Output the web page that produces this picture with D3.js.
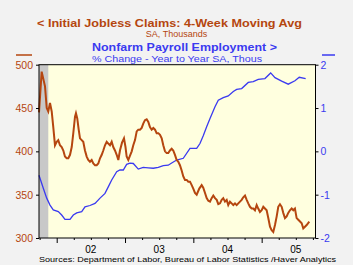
<!DOCTYPE html>
<html>
<head>
<meta charset="utf-8">
<script src="https://cdn.jsdelivr.net/npm/d3@7"></script>
<style>
  html, body { margin: 0; padding: 0; background: #f2f2f2; }
  svg { display: block; font-family: Arial, "Liberation Sans", sans-serif; }
</style>
</head>
<body>
<script>
// weekly claims, 4-wk avg (thousands) - dates as decimal years
var claimsT = [2001.741,2001.780,2001.829,2001.854,2001.877,2001.902,2001.927,2001.950,2001.975,
  2002.000,2002.023,2002.048,2002.073,2002.097,2002.121,2002.146,2002.170,2002.195,2002.220,2002.243,
  2002.268,2002.282,2002.301,2002.322,2002.341,2002.366,2002.389,2002.414,2002.439,2002.462,2002.487,
  2002.512,2002.536,2002.561,2002.585,2002.609,2002.634,2002.659,2002.682,2002.707,2002.732,2002.755,
  2002.780,2002.805,2002.828,2002.853,2002.878,2002.902,2002.926,2002.956,2002.985,
  2003.007,2003.024,2003.048,2003.073,2003.098,2003.121,2003.146,2003.171,2003.194,2003.219,2003.244,
  2003.267,2003.292,2003.317,2003.341,2003.365,2003.390,2003.414,2003.439,2003.463,2003.487,2003.512,
  2003.537,2003.560,2003.585,2003.610,2003.633,2003.658,2003.683,2003.706,2003.731,2003.756,2003.780,
  2003.804,2003.829,2003.853,2003.878,2003.903,2003.926,2003.951,2003.976,2003.999,
  2004.024,2004.049,2004.087,2004.122,2004.145,2004.171,2004.195,2004.219,2004.244,2004.268,2004.292,
  2004.317,2004.342,2004.365,2004.390,2004.415,2004.438,2004.463,2004.488,2004.511,2004.536,2004.561,
  2004.585,2004.610,2004.634,2004.658,2004.683,2004.707,2004.731,2004.756,2004.781,2004.804,2004.829,
  2004.854,2004.877,2004.902,2004.927,2004.950,2004.975,
  2005.000,2005.024,2005.048,2005.073,2005.097,2005.122,2005.146,2005.170,2005.195,2005.220,2005.243,
  2005.268,2005.293,2005.316,2005.341,2005.366,2005.389,2005.414,2005.439,2005.463,2005.487,2005.512,
  2005.536,2005.561,2005.586,2005.609,2005.634,2005.659,2005.697];
var claimsV = [445,492,475,450,446,456,446,428,407,
  411,413,407,405,401,394,392,392,396,405,421,
  440,444,438,425,415,413,411,401,394,390,388,
  390,386,384,384,386,392,396,401,407,411,409,
  407,411,405,401,396,390,401,410,415,
  405,394,390,395,400,407,413,423,425,425,427,
  432,436,437,434,428,425,427,425,421,421,419,
  415,407,400,398,398,401,403,401,396,390,388,
  384,378,371,367,367,365,365,361,357,
  352,350,357,361,358,352,346,343,342,346,349,
  346,344,339,340,344,346,342,344,338,342,340,
  338,340,338,340,342,344,347,349,344,340,336,
  334,334,332,338,334,330,
  332,336,334,332,323,313,309,307,315,325,336,
  339,336,329,323,325,329,332,334,332,334,323,
  321,319,317,311,313,315,319];

// payroll employment, % change y/y
var payrollT = [2001.741,2001.804,2001.854,2001.902,2001.950,2002.023,2002.073,2002.121,2002.195,
  2002.243,2002.293,2002.366,2002.414,2002.487,2002.561,2002.634,2002.707,2002.755,2002.805,2002.878,
  2002.926,2002.975,2003.024,2003.073,2003.121,2003.194,2003.267,2003.341,2003.414,2003.487,2003.560,
  2003.633,2003.683,2003.756,2003.853,2003.951,2004.049,2004.097,2004.145,2004.195,2004.244,2004.317,
  2004.365,2004.438,2004.511,2004.585,2004.634,2004.707,2004.804,2004.877,2004.950,2005.048,2005.132,
  2005.195,2005.293,2005.389,2005.487,2005.550,2005.644];
var payrollV = [-0.55,-0.85,-1.08,-1.24,-1.35,-1.39,-1.47,-1.57,-1.57,
  -1.47,-1.42,-1.39,-1.28,-1.25,-1.20,-1.08,-0.97,-0.82,-0.66,-0.47,
  -0.43,-0.43,-0.30,-0.27,-0.28,-0.41,-0.37,-0.38,-0.39,-0.37,-0.33,
  -0.32,-0.27,-0.20,-0.16,0.07,0.07,0.18,0.36,0.57,0.76,1.03,
  1.18,1.24,1.28,1.38,1.43,1.45,1.59,1.61,1.66,1.68,1.81,
  1.70,1.62,1.55,1.63,1.71,1.68];

var recession = [2001.741, 2001.877];
var leftTicks = [300, 350, 400, 450, 500];
var rightTicks = [-2, -1, 0, 1, 2];
var yearLabels = ["02", "03", "04", "05"];
var yearMids = [2002.5, 2003.5, 2004.5, 2005.5];

var W = 353, H = 265;
var orange = "#b5460f", blue = "#3a3af0";
var m = {left: 39, right: 315.5, top: 64.7, bottom: 238};

var svg = d3.select("body").append("svg").attr("width", W).attr("height", H);

var x = d3.scaleLinear().domain([2001.741, 2005.788]).range([m.left, m.right]);
var yL = d3.scaleLinear().domain([300, 500]).range([m.bottom, m.top]);
var yR = d3.scaleLinear().domain([-2, 2]).range([m.bottom, m.top]);

// plot background
svg.append("rect").attr("x", m.left).attr("y", m.top)
  .attr("width", m.right - m.left).attr("height", m.bottom - m.top)
  .attr("fill", "#ffffdf");

svg.append("rect").attr("x", x(recession[0])).attr("y", m.top)
  .attr("width", x(recession[1]) - x(recession[0])).attr("height", m.bottom - m.top)
  .attr("fill", "#c8c8c8");

var claims = d3.zip(claimsT, claimsV), payroll = d3.zip(payrollT, payrollV);

svg.append("path").datum(payroll)
  .attr("d", d3.line().x(d => x(d[0])).y(d => yR(d[1])))
  .attr("fill", "none").attr("stroke", blue).attr("stroke-width", 1.3);

svg.append("path").datum(claims)
  .attr("d", d3.line().x(d => x(d[0])).y(d => yL(d[1])))
  .attr("fill", "none").attr("stroke", orange).attr("stroke-width", 2);

svg.append("rect").attr("x", m.left).attr("y", m.top)
  .attr("width", m.right - m.left).attr("height", m.bottom - m.top)
  .attr("fill", "none").attr("stroke", "#000").attr("stroke-width", 1);

// left axis
var gl = svg.append("g").attr("transform", "translate(" + m.left + ",0)")
  .call(d3.axisLeft(yL).tickValues(leftTicks).tickSize(3).tickPadding(3));
gl.select(".domain").remove();
gl.selectAll("text").attr("fill", orange).style("font-size", "10.5px");

// right axis
var gr = svg.append("g").attr("transform", "translate(" + m.right + ",0)")
  .call(d3.axisRight(yR).tickValues(rightTicks).tickSize(3).tickPadding(2)
    .tickFormat(d => d < 0 ? "-" + Math.abs(d) : d));
gr.select(".domain").remove();
gr.selectAll("text").attr("fill", blue).style("font-size", "10.5px");

// bottom axis, quarterly ticks
var qt = d3.range(7, 24).map(q => 2000 + q * 0.25);
var gb = svg.append("g").attr("transform", "translate(0," + m.bottom + ")")
  .call(d3.axisBottom(x).tickValues(qt).tickSize(2).tickFormat(""));
gb.select(".domain").remove();
gb.selectAll(".tick line").attr("y2", d => Math.abs(d % 1) < 0.01 ? 5 : 2);

svg.selectAll(".yl").data(yearLabels).enter().append("text")
  .attr("x", (d, i) => x(yearMids[i])).attr("y", 253)
  .attr("text-anchor", "middle").style("font-size", "10px").attr("fill", "#000")
  .text(d => d);

// legend marks above axes
svg.append("line").attr("x1", 16).attr("x2", 32).attr("y1", 55).attr("y2", 55)
  .attr("stroke", orange).attr("stroke-width", 1.5);
svg.append("line").attr("x1", 322).attr("x2", 335).attr("y1", 55).attr("y2", 55)
  .attr("stroke", blue).attr("stroke-width", 1.5);

// titles
svg.append("text").attr("x", 37).attr("y", 27).attr("fill", orange)
  .style("font-size", "11.5px").style("font-weight", "bold")
  .attr("textLength", 265).attr("lengthAdjust", "spacingAndGlyphs")
  .text("<  Initial Jobless Claims: 4-Week Moving Avg");
svg.append("text").attr("x", 176.5).attr("y", 37).attr("fill", orange)
  .attr("text-anchor", "middle").style("font-size", "9px")
  .text("SA, Thousands");
svg.append("text").attr("x", 92).attr("y", 51).attr("fill", blue)
  .style("font-size", "11.5px").style("font-weight", "bold")
  .attr("textLength", 185).attr("lengthAdjust", "spacingAndGlyphs")
  .text("Nonfarm Payroll Employment  >");
svg.append("text").attr("x", 92).attr("y", 61.5).attr("fill", blue)
  .style("font-size", "9px")
  .attr("textLength", 170).attr("lengthAdjust", "spacingAndGlyphs")
  .text("% Change - Year to Year  SA, Thous");

svg.append("text").attr("x", 39).attr("y", 262).attr("fill", "#000")
  .style("font-size", "8px")
  .attr("textLength", 297).attr("lengthAdjust", "spacingAndGlyphs")
  .text("Sources:  Department of Labor, Bureau of Labor Statistics /Haver Analytics");
</script>
</body>
</html>
